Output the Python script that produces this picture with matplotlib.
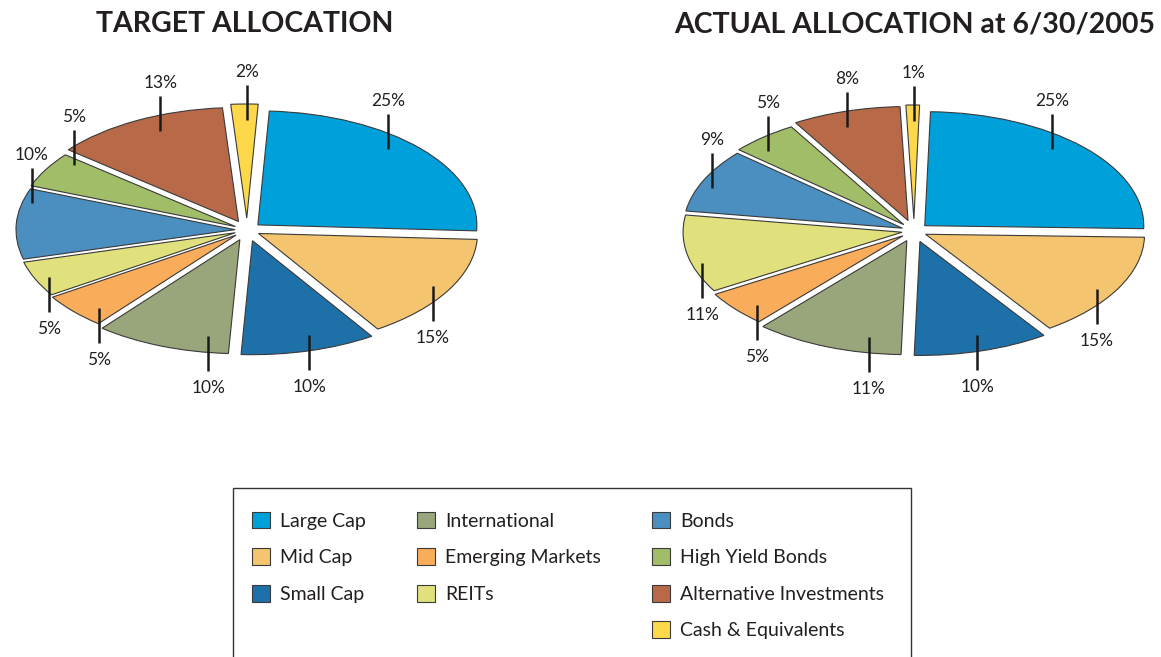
import numpy as np
import matplotlib
matplotlib.use("Agg")
import matplotlib.pyplot as plt
from matplotlib.patches import Patch, Rectangle
from matplotlib.transforms import IdentityTransform

# ---------------- data ----------------
categories = ["Large Cap", "Mid Cap", "Small Cap", "International",
              "Emerging Markets", "REITs", "Bonds", "High Yield Bonds",
              "Alternative Investments", "Cash & Equivalents"]
target_pct = [25, 15, 10, 10, 5, 5, 10, 5, 13, 2]
actual_pct = [25, 15, 10, 11, 5, 11, 9, 5, 8, 1]
colors = ["#00A0DB", "#F4C46E", "#1E70A9", "#99A57A", "#F9AC5A",
          "#E0E07C", "#4A8FBF", "#A2BD67", "#B86A48", "#FDD84B"]
title_target = "TARGET ALLOCATION"
title_actual = "ACTUAL ALLOCATION at 6/30/2005"

# ---------------- style / layout ----------------
W, H = 1161, 657
FONT = "Lato"
PX_X, PX_Y = 219.0, 114.0          # pixels per pie-radius unit
XL, YL = 1.2, 1.6                  # axes half-extent (data units)
EXPLODE_PX = 12.0
lab_r_target = [0.80, 0.92, 1.0, 0.40, 0.84, 0.93, 0.93, 0.85, 0.77, 0.0]
lab_r_actual = [0.80, 0.89, 0.92, 0.48, 0.87, 0.93, 0.96, 0.97, 0.98, 0.0]

fig = plt.figure(figsize=(W / 100, H / 100), dpi=100)


def make_axes(cx, cy):
    w = 2 * XL * PX_X
    h = 2 * YL * PX_Y
    left = cx - w / 2
    bottom = (H - cy) - h / 2
    return fig.add_axes([left / W, bottom / H, w / W, h / H])


def draw_pie(ax, values, startangle, lab_r):
    wedges, _ = ax.pie(values, colors=colors, startangle=startangle,
                       counterclock=False, radius=1.0,
                       wedgeprops=dict(edgecolor="#3a3a3a", linewidth=0.8))
    ax.set_aspect("auto")
    ax.set_xlim(-XL, XL)
    ax.set_ylim(-YL, YL)
    ax.axis("off")
    for w, v, r in zip(wedges, values, lab_r):
        th = np.deg2rad((w.theta1 + w.theta2) / 2)
        ux, uy = PX_X * np.cos(th), PX_Y * np.sin(th)
        n = np.hypot(ux, uy)
        ox = EXPLODE_PX * ux / n / PX_X
        oy = EXPLODE_PX * uy / n / PX_Y
        w.set_center((ox, oy))
        s = 1.0 if np.sin(th) >= -1e-9 else -1.0
        x = ox + r * np.cos(th)
        ye = oy + s * np.sqrt(max(0.0, 1 - (x - ox) ** 2))
        y0 = ye - s * 16 / PX_Y
        y1 = ye + s * 19 / PX_Y
        ax.plot([x, x], [y0, y1], color="#1a1a1a", lw=1.8,
                solid_capstyle="butt", clip_on=False)
        if s > 0:
            yt = y1 + 8 / PX_Y
        else:
            yt = y1 - 22 / PX_Y
        ax.text(x, yt, f"{v}%", ha="center", va="baseline",
                fontsize=12.5, family=FONT, color="#231f20", clip_on=False)


ax1 = make_axes(247, 230)
draw_pie(ax1, target_pct, 87, lab_r_target)
ax2 = make_axes(914, 231)
draw_pie(ax2, actual_pct, 88.5, lab_r_actual)

fig.text(245 / W, 1 - 32 / H, title_target, ha="center", va="baseline",
         fontsize=20.5, fontweight="bold", family=FONT, color="#231f20")
fig.text(915 / W, 1 - 32 / H, title_actual, ha="center", va="baseline",
         fontsize=20.5, fontweight="bold", family=FONT, color="#231f20")

# ---------------- legend ----------------
fig.patches.append(Rectangle((233, -20), 678, (H - 488) + 20,
                             transform=IdentityTransform(), fill=False,
                             edgecolor="#333333", lw=1.0))
handles = [Patch(facecolor=c, edgecolor="#3a3a3a", lw=0.8, label=l)
           for c, l in zip(colors, categories)]
blank = Patch(facecolor="none", edgecolor="none", label="")
order = handles[0:3] + [blank] + handles[3:6] + [blank] + handles[6:10]
fig.legend(handles=order, labels=[h.get_label() for h in order],
           loc="upper left", bbox_to_anchor=(242 / W, 1 - 502 / H),
           ncol=3, frameon=False, prop={"family": FONT, "size": 14},
           handlelength=0.95, handleheight=0.95, handletextpad=0.5,
           labelspacing=0.95, columnspacing=2.62, borderpad=0.0,
           labelcolor="#231f20")

fig.savefig("out.png", dpi=100)
